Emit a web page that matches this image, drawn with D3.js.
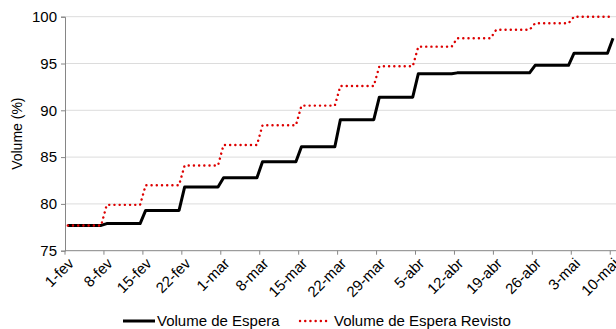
<!DOCTYPE html>
<html>
<head>
<meta charset="utf-8">
<script src="https://cdn.jsdelivr.net/npm/d3@7"></script>
<style>
  html, body { margin: 0; padding: 0; background: #fff; }
  svg { display: block; font-family: "Liberation Sans", Arial, sans-serif; }
</style>
</head>
<body>
<svg id="chart" width="616" height="329"></svg>
<script>
// Weekly periods (each week's value holds for every day of that week)
const weekLabels = ["1-fev", "8-fev", "15-fev", "22-fev", "1-mar", "8-mar", "15-mar",
  "22-mar", "29-mar", "5-abr", "12-abr", "19-abr", "26-abr", "3-mai", "10-mai"];

// Volume (%) per week
const volumeEspera = [77.7, 77.9, 79.3, 81.8, 82.8, 84.5, 86.1, 89.0, 91.4, 93.9,
  94.0, 94.0, 94.8, 96.1, 97.7];
const volumeEsperaRevisto = [77.7, 79.9, 82.0, 84.1, 86.3, 88.4, 90.5, 92.6, 94.7, 96.8,
  97.7, 98.6, 99.3, 100.0, 100.0];

const yTicks = [75, 80, 85, 90, 95, 100];

const seriesNames = ["Volume de Espera", "Volume de Espera Revisto"];

// Daily categories, 1-fev .. 10-mai
const firstDay = new Date(2010, 1, 1);
const lastDay = new Date(2010, 4, 10);
const days = d3.timeDay.range(firstDay, d3.timeDay.offset(lastDay, 1));
const weekOf = d => Math.floor(d3.timeDay.count(firstDay, d) / 7);

const dailyEspera = days.map(d => ({ day: d, v: volumeEspera[weekOf(d)] }));
const dailyRevisto = days.map(d => ({ day: d, v: volumeEsperaRevisto[weekOf(d)] }));

const svg = d3.select("#chart");
const margin = { left: 65, right: 0.2, top: 16.7, bottom: 78.3 };
const W = 616, H = 329;

const x = d3.scaleBand()
  .domain(days.map(d => +d))
  .range([margin.left, W - margin.right])
  .padding(0);
const y = d3.scaleLinear().domain([75, 100]).range([H - margin.bottom, margin.top]);
const cx = d => x(+d) + x.bandwidth() / 2;

// Gridlines
svg.append("g")
  .selectAll("line")
  .data(yTicks.filter(t => t > 75))
  .join("line")
  .attr("x1", margin.left).attr("x2", W)
  .attr("y1", d => y(d)).attr("y2", d => y(d))
  .attr("stroke", "#dcdcdc").attr("stroke-width", 1);

// Y axis
const yAxis = svg.append("g")
  .attr("transform", `translate(${margin.left},0)`)
  .call(d3.axisLeft(y).tickValues(yTicks).tickSize(4).tickPadding(4).tickFormat(d3.format("d")));
yAxis.select(".domain").attr("stroke", "#868686");
yAxis.selectAll(".tick line").attr("stroke", "#868686");
yAxis.selectAll("text").attr("font-size", 15).attr("fill", "#000")
  .attr("font-family", "Liberation Sans, Arial, sans-serif");

// X axis: ticks at the start of each week
const weekStarts = days.filter((d, i) => i % 7 === 0);
const xAxis = svg.append("g")
  .attr("transform", `translate(0,${y(75)})`);
xAxis.append("line")
  .attr("x1", margin.left).attr("x2", W)
  .attr("stroke", "#868686");
const xt = xAxis.selectAll("g.tick")
  .data(weekStarts)
  .join("g")
  .attr("class", "tick")
  .attr("transform", d => `translate(${x(+d)},0)`);
xt.append("line").attr("y2", 4).attr("stroke", "#868686");
xt.append("text")
  .attr("transform", "translate(6,10) rotate(-45)")
  .attr("text-anchor", "end")
  .attr("dy", "0.35em")
  .attr("font-size", 15)
  .text((d, i) => weekLabels[i]);

// Lines
const line = d3.line().x(d => cx(d.day)).y(d => y(d.v));

svg.append("path")
  .datum(dailyEspera)
  .attr("d", line)
  .attr("fill", "none")
  .attr("stroke", "#000")
  .attr("stroke-width", 3)
  .attr("stroke-linejoin", "round");

svg.append("path")
  .datum(dailyRevisto)
  .attr("d", line)
  .attr("fill", "none")
  .attr("stroke", "#dd0000")
  .attr("stroke-width", 2.4)
  .attr("stroke-linecap", "round")
  .attr("stroke-dasharray", "0.1 5.1");

// Y axis title
svg.append("text")
  .attr("transform", `translate(22,${(y(75) + y(100)) / 2}) rotate(-90)`)
  .attr("text-anchor", "middle")
  .attr("font-size", 14)
  .text("Volume (%)");

// Legend
const legend = svg.append("g").attr("transform", "translate(0,321)");
legend.append("line").attr("x1", 123).attr("x2", 155)
  .attr("stroke", "#000").attr("stroke-width", 3);
legend.append("text").attr("x", 157).attr("dy", "0.35em").attr("font-size", 15)
  .text(seriesNames[0]);
legend.append("line").attr("x1", 300).attr("x2", 330)
  .attr("stroke", "#dd0000").attr("stroke-width", 2.4)
  .attr("stroke-linecap", "round").attr("stroke-dasharray", "0.1 5.1");
legend.append("text").attr("x", 334).attr("dy", "0.35em").attr("font-size", 15)
  .text(seriesNames[1]);
</script>
</body>
</html>
